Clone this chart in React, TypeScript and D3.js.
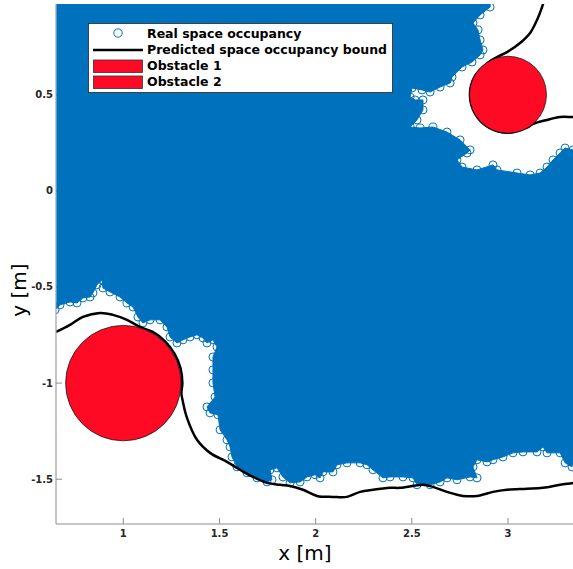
import React from "react";
import * as d3 from "d3";

const W = 573;
const H = 569;

// Outline of the sampled (real) space occupancy, in metres
const occupancyX = [
  0.6, 2.907, 2.907, 2.855, 2.818, 2.844, 2.855, 2.87, 2.855, 2.813, 2.761, 2.709, 2.699, 2.647, 2.595,
  2.553, 2.501, 2.491, 2.517, 2.558, 2.558, 2.527, 2.491, 2.543, 2.61, 2.683, 2.751, 2.803, 2.787, 2.735,
  2.761, 2.839, 2.922, 2.943, 3.047, 3.115, 3.167, 3.203, 3.234, 3.271, 3.297, 3.338, 3.4, 3.4, 3.338,
  3.333, 3.297, 3.271, 3.203, 3.182, 3.151, 3.078, 3.026, 2.974, 2.922, 2.891, 2.839, 2.818, 2.839, 2.803,
  2.735, 2.683, 2.647, 2.595, 2.527, 2.506, 2.454, 2.387, 2.35, 2.298, 2.267, 2.231, 2.163, 2.111, 2.09,
  2.038, 2.023, 1.997, 1.955, 1.919, 1.867, 1.83, 1.799, 1.763, 1.773, 1.747, 1.695, 1.643, 1.591, 1.565,
  1.555, 1.539, 1.503, 1.492, 1.451, 1.435, 1.477, 1.466, 1.466, 1.466, 1.487, 1.466, 1.435, 1.414, 1.383,
  1.347, 1.31, 1.279, 1.243, 1.227, 1.191, 1.139, 1.102, 1.076, 1.05, 1.019, 0.983, 0.931, 0.894, 0.889,
  0.863, 0.842, 0.827, 0.79, 0.759, 0.723, 0.671, 0.645, 0.6,
];
const occupancyY = [
  1.0, 1.0, 0.956, 0.915, 0.873, 0.837, 0.785, 0.733, 0.707, 0.67, 0.644, 0.592, 0.561, 0.54, 0.514,
  0.525, 0.535, 0.488, 0.473, 0.473, 0.421, 0.369, 0.332, 0.327, 0.332, 0.306, 0.265, 0.213, 0.197, 0.161,
  0.124, 0.109, 0.135, 0.109, 0.093, 0.083, 0.093, 0.124, 0.161, 0.197, 0.223, 0.213, 0.213, -1.399, -1.399,
  -1.436, -1.415, -1.363, -1.363, -1.332, -1.358, -1.358, -1.363, -1.384, -1.399, -1.41, -1.399, -1.436, -1.493, -1.488,
  -1.503, -1.493, -1.514, -1.529, -1.529, -1.493, -1.488, -1.488, -1.493, -1.451, -1.425, -1.415, -1.415, -1.425, -1.462,
  -1.462, -1.493, -1.477, -1.488, -1.514, -1.519, -1.488, -1.441, -1.451, -1.503, -1.514, -1.493, -1.467, -1.436, -1.384,
  -1.332, -1.295, -1.243, -1.165, -1.155, -1.124, -1.072, -0.999, -0.931, -0.864, -0.812, -0.775, -0.791, -0.765, -0.749,
  -0.76, -0.775, -0.791, -0.76, -0.708, -0.671, -0.671, -0.687, -0.656, -0.604, -0.583, -0.552, -0.526, -0.505, -0.463,
  -0.489, -0.531, -0.552, -0.557, -0.583, -0.578, -0.593, -0.619, -0.619,
];

// Predicted occupancy bound: lower branch (around obstacle 1) and upper branch (around obstacle 2)
const boundLowX = [
  0.65, 0.723, 0.79, 0.879, 0.946, 1.019, 1.087, 1.153, 1.217, 1.266, 1.297, 1.307, 1.302, 1.31, 1.331,
  1.383, 1.451, 1.539, 1.607, 1.674, 1.747, 1.815, 1.867, 1.934, 2.007, 2.09, 2.163, 2.231, 2.298, 2.387,
  2.439, 2.558, 2.61, 2.683, 2.766, 2.839, 2.922, 2.995, 3.099, 3.182, 3.271, 3.338, 3.4,
];
const boundLowY = [
  -0.734, -0.697, -0.656, -0.635, -0.645, -0.671, -0.708, -0.734, -0.783, -0.847, -0.921, -1.0, -1.053, -1.098, -1.181,
  -1.295, -1.363, -1.41, -1.451, -1.488, -1.519, -1.529, -1.535, -1.555, -1.587, -1.592, -1.592, -1.566, -1.555, -1.545,
  -1.545, -1.529, -1.54, -1.566, -1.587, -1.587, -1.566, -1.555, -1.55, -1.545, -1.529, -1.519, -1.508,
];
const boundHighX = [
  3.193, 3.177, 3.151, 3.115, 3.063, 2.995, 2.943, 2.901, 2.829, 2.802, 2.829, 2.901, 3.0, 3.099, 3.13,
  3.203, 3.271, 3.338, 3.4,
];
const boundHighY = [
  1.008, 0.956, 0.889, 0.821, 0.769, 0.722, 0.696, 0.671, 0.599, 0.5, 0.401, 0.329, 0.302, 0.329, 0.348,
  0.369, 0.384, 0.384, 0.384,
];

// Circular obstacles: centre and radius in metres
const obstacleNames = ["Obstacle 1", "Obstacle 2"];
const obstacleCX = [1, 3];
const obstacleCY = [-1, 0.5];
const obstacleR = [0.3, 0.2];

const xTicks = [1, 1.5, 2, 2.5, 3];
const yTicks = [-1.5, -1, -0.5, 0, 0.5];
const legendLabels = [
  "Real space occupancy",
  "Predicted space occupancy bound",
  "Obstacle 1",
  "Obstacle 2",
];

const BLUE = "#0072bd";
const RED = "#ff0a24";
const AXIS = "#262626";
const FONT = "'DejaVu Sans', sans-serif";

export default function App() {
  const left = 56, right = 573, top = 4, bottom = 524;
  const x = d3.scaleLinear().domain([0.65, 3.338]).range([left, right]);
  const y = d3.scaleLinear().domain([-1.733, 0.972]).range([bottom, top]);

  const occupancy = occupancyX.map((v, i) => [v, occupancyY[i]] as [number, number]);
  const lowBound = boundLowX.map((v, i) => [v, boundLowY[i]] as [number, number]);
  const highBound = boundHighX.map((v, i) => [v, boundHighY[i]] as [number, number]);

  const line = d3
    .line<[number, number]>()
    .x((d) => x(d[0]))
    .y((d) => y(d[1]));
  const smooth = d3
    .line<[number, number]>()
    .x((d) => x(d[0]))
    .y((d) => y(d[1]))
    .curve(d3.curveCatmullRom.alpha(0.5));

  const tickLen = 6;

  return (
    <svg
      width={W}
      height={H}
      style={{ position: "absolute", left: 0, top: 0, background: "#fff" }}
      fontFamily={FONT}
    >
      <defs>
        <clipPath id="plot-area">
          <rect x={left + 0.5} y={top} width={right - left} height={bottom - top} />
        </clipPath>
      </defs>

      {/* axes (drawn beneath the data) */}
      <line x1={left} x2={left} y1={top} y2={bottom} stroke="#8c8c8c" strokeWidth={1} />
      <line x1={left} x2={right} y1={bottom} y2={bottom} stroke="#8c8c8c" strokeWidth={1} />
      {yTicks.map((t) => (
        <g key={"y" + t}>
          <line x1={left} x2={left + tickLen} y1={y(t)} y2={y(t)} stroke="#8c8c8c" />
          <text
            x={left - 3}
            y={y(t)}
            dy="0.35em"
            textAnchor="end"
            fontSize={10}
            fontWeight="bold"
            fill={AXIS}
          >
            {t}
          </text>
        </g>
      ))}
      {xTicks.map((t) => (
        <g key={"x" + t}>
          <line x1={x(t)} x2={x(t)} y1={bottom} y2={bottom - tickLen} stroke="#8c8c8c" />
          <text
            x={x(t)}
            y={bottom + 13}
            textAnchor="middle"
            fontSize={10}
            fontWeight="bold"
            fill={AXIS}
          >
            {t}
          </text>
        </g>
      ))}

      <g clipPath="url(#plot-area)">
        {/* occupied region and its sampled edge markers */}
        <path d={line(occupancy) + "Z"} fill={BLUE} stroke={BLUE} strokeWidth={1} />
        {occupancy.map((d, i) => (
          <circle
            key={"m" + i}
            cx={x(d[0])}
            cy={y(d[1])}
            r={4}
            fill="none"
            stroke={BLUE}
            strokeWidth={1}
          />
        ))}

        {/* predicted bound */}
        <path d={smooth(lowBound) || ""} fill="none" stroke="#000" strokeWidth={2.5} strokeLinejoin="round" />
        <path d={smooth(highBound) || ""} fill="none" stroke="#000" strokeWidth={2.5} strokeLinejoin="round" />

        {/* obstacles */}
        {obstacleNames.map((n, i) => (
          <circle
            key={n}
            cx={x(obstacleCX[i])}
            cy={y(obstacleCY[i])}
            r={x(obstacleCX[i] + obstacleR[i]) - x(obstacleCX[i])}
            fill={RED}
            stroke="#1a1a1a"
            strokeWidth={0.8}
          />
        ))}
      </g>

      {/* axis titles */}
      <text x={305} y={560} textAnchor="middle" fontSize={20} fill="#000">
        x [m]
      </text>
      <text
        transform="translate(26,290) rotate(-90)"
        textAnchor="middle"
        fontSize={20}
        fill="#000"
      >
        y [m]
      </text>

      {/* legend */}
      <g>
        <rect x={88.5} y={23.5} width={304} height={69} fill="#fff" stroke={AXIS} strokeWidth={0.8} />
        <circle cx={118} cy={33} r={4.2} fill="none" stroke={BLUE} strokeWidth={1} />
        <line x1={93} x2={143} y1={50} y2={50} stroke="#000" strokeWidth={2.5} />
        <rect x={93.5} y={60} width={49} height={12.5} fill={RED} stroke="#333" strokeWidth={0.8} />
        <rect x={93.5} y={76} width={49} height={12.5} fill={RED} stroke="#333" strokeWidth={0.8} />
        {legendLabels.map((s, i) => (
          <text
            key={s}
            x={147}
            y={37.5 + i * 16.3}
            fontSize={12.5}
            fontWeight="bold"
            fill="#000"
          >
            {s}
          </text>
        ))}
      </g>
    </svg>
  );
}
